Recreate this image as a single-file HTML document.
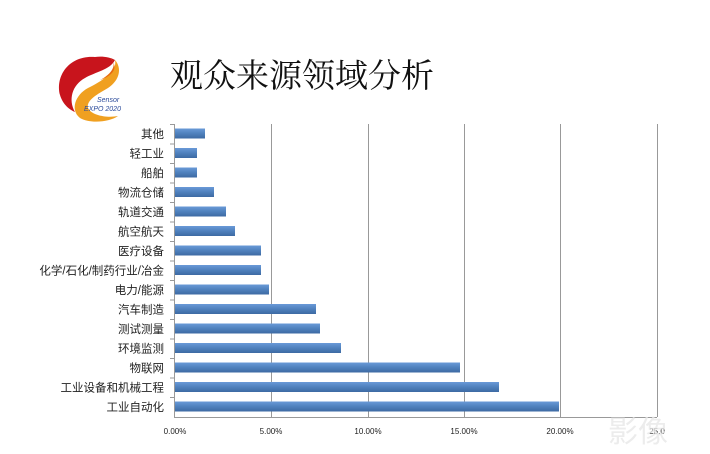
<!DOCTYPE html>
<html><head><meta charset="utf-8"><style>
body{margin:0;background:#fff;width:710px;height:454px;overflow:hidden}
svg{display:block;font-family:"Liberation Sans","Noto Sans CJK SC",sans-serif}
</style></head><body>
<svg width="710" height="454" viewBox="0 0 710 454">
<defs>
<linearGradient id="bg" x1="0" y1="0" x2="0" y2="1"><stop offset="0" stop-color="#6a9ad8"/><stop offset="0.5" stop-color="#4f81bd"/><stop offset="1" stop-color="#3d6aa3"/></linearGradient>
</defs>
<path d="M95 57 C70 55 55 75 60 95 C63 105 70 110 75 112 C68 100 72 85 85 78 C95 72 110 70 115 60 C110 57 102 56 95 57Z" fill="#c8141c"/>
<path d="M115 60 C118 72 100 82 88 88 C75 95 70 110 80 118 C90 124 110 122 118 116 C108 118 92 116 88 108 C86 100 98 94 108 88 C120 80 122 68 115 60Z" fill="#f0a020"/>
<path d="M110 58 C118 64 112 74 100 80 C112 76 120 68 110 58Z" fill="#e86a10"/>
<text x="97" y="102" font-size="7" fill="#2a4a9a" font-style="italic">Sensor</text>
<text x="84" y="111" font-size="7" fill="#2a4a9a" font-style="italic">EXPO 2020</text>
<text x="170" y="87" font-size="33" fill="#111" font-family="'Noto Serif CJK SC','Noto Sans CJK SC',serif">观众来源领域分析</text>
<g stroke="#999" stroke-width="1">
<line x1="271.5" y1="124" x2="271.5" y2="417"/><line x1="368.5" y1="124" x2="368.5" y2="417"/><line x1="464.5" y1="124" x2="464.5" y2="417"/><line x1="560.5" y1="124" x2="560.5" y2="417"/><line x1="657.5" y1="124" x2="657.5" y2="417"/>
<line x1="174.5" y1="124" x2="174.5" y2="418"/><line x1="174" y1="417.5" x2="657" y2="417.5"/>
</g>
<g stroke="#999"><line x1="170" y1="124.5" x2="174" y2="124.5"/><line x1="170" y1="144" x2="174" y2="144"/><line x1="170" y1="163.5" x2="174" y2="163.5"/><line x1="170" y1="183" x2="174" y2="183"/><line x1="170" y1="202.5" x2="174" y2="202.5"/><line x1="170" y1="222" x2="174" y2="222"/><line x1="170" y1="241.5" x2="174" y2="241.5"/><line x1="170" y1="261" x2="174" y2="261"/><line x1="170" y1="280.5" x2="174" y2="280.5"/><line x1="170" y1="300" x2="174" y2="300"/><line x1="170" y1="319.5" x2="174" y2="319.5"/><line x1="170" y1="339" x2="174" y2="339"/><line x1="170" y1="358.5" x2="174" y2="358.5"/><line x1="170" y1="378" x2="174" y2="378"/><line x1="170" y1="397.5" x2="174" y2="397.5"/></g>
<g fill="url(#bg)">
<rect x="175" y="128.5" width="30" height="10"/>
<rect x="175" y="148" width="22" height="10"/>
<rect x="175" y="167.5" width="22" height="10"/>
<rect x="175" y="187" width="39" height="10"/>
<rect x="175" y="206.5" width="51" height="10"/>
<rect x="175" y="226" width="60" height="10"/>
<rect x="175" y="245.5" width="86" height="10"/>
<rect x="175" y="265" width="86" height="10"/>
<rect x="175" y="284.5" width="94" height="10"/>
<rect x="175" y="304" width="141" height="10"/>
<rect x="175" y="323.5" width="145" height="10"/>
<rect x="175" y="343" width="166" height="10"/>
<rect x="175" y="362.5" width="285" height="10"/>
<rect x="175" y="382" width="324" height="10"/>
<rect x="175" y="401.5" width="384" height="10"/>
</g>
<g font-size="11.5" fill="#222" text-anchor="end">
<text x="164" y="138">其他</text><text x="164" y="157.5">轻工业</text><text x="164" y="177">船舶</text><text x="164" y="196.5">物流仓储</text><text x="164" y="216">轨道交通</text><text x="164" y="235.5">航空航天</text><text x="164" y="255">医疗设备</text><text x="164" y="274.5">化学/石化/制药行业/冶金</text><text x="164" y="294">电力/能源</text><text x="164" y="313.5">汽车制造</text><text x="164" y="333">测试测量</text><text x="164" y="352.5">环境监测</text><text x="164" y="372">物联网</text><text x="164" y="391.5">工业设备和机械工程</text><text x="164" y="411">工业自动化</text>
</g>
<g font-size="8" fill="#222" text-anchor="middle">
<text x="175" y="434">0.00%</text><text x="271" y="434">5.00%</text><text x="368" y="434">10.00%</text><text x="464" y="434">15.00%</text><text x="560" y="434">20.00%</text><text x="657" y="434">25.0</text>
</g>
<text x="608" y="442" font-size="30" fill="#e8e8e8" opacity="0.8">影像</text>
</svg>
</body></html>
